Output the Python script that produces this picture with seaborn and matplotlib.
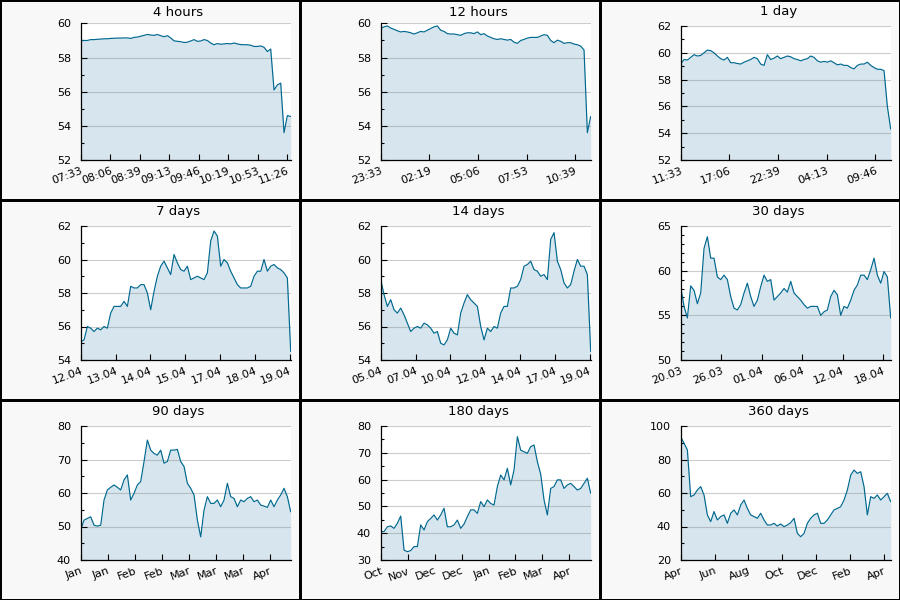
import numpy as np
import pandas as pd
import matplotlib
matplotlib.use("Agg")
import matplotlib.pyplot as plt
import seaborn as sns
from matplotlib.ticker import MultipleLocator

sns.set_style("white")
plt.rcParams["font.family"] = ["DejaVu Sans"]
plt.rcParams["text.color"] = "black"

titles = ["4 hours", "12 hours", "1 day", "7 days", "14 days", "30 days",
          "90 days", "180 days", "360 days"]
spans = [240, 720, 1440, 7, 14, 30, 90, 180, 360]
tick_steps = [33.75, 166.8, 333.6, 1.16, 2.32, 5.78, 11.56, 23.1, 58.0]
tick_labels = [
    ["07:33", "08:06", "08:39", "09:13", "09:46", "10:19", "10:53", "11:26"],
    ["23:33", "02:19", "05:06", "07:53", "10:39"],
    ["11:33", "17:06", "22:39", "04:13", "09:46"],
    ["12.04", "13.04", "14.04", "15.04", "17.04", "18.04", "19.04"],
    ["05.04", "07.04", "10.04", "12.04", "14.04", "17.04", "19.04"],
    ["20.03", "26.03", "01.04", "06.04", "12.04", "18.04"],
    ["Jan", "Jan", "Feb", "Feb", "Mar", "Mar", "Mar", "Apr"],
    ["Oct", "Nov", "Dec", "Dec", "Jan", "Feb", "Mar", "Apr"],
    ["Apr", "Jun", "Aug", "Oct", "Dec", "Feb", "Apr"],
]
# (min, max, major step, minor step)
y_axes = [(52, 60, 2, 1), (52, 60, 2, 1), (52, 62, 2, 1),
          (54, 62, 2, 1), (54, 62, 2, 1), (50, 65, 5, 1),
          (40, 80, 10, 5), (30, 80, 10, 5), (20, 100, 20, 10)]

vals_4h = [59.0, 59.0, 59.0, 59.05, 59.05, 59.07, 59.08, 59.1, 59.1, 59.12,
           59.13, 59.14, 59.14, 59.15, 59.15, 59.12, 59.18, 59.2, 59.25, 59.3,
           59.35, 59.32, 59.3, 59.35, 59.28, 59.22, 59.28, 59.15, 58.98, 58.95,
           58.93, 58.88, 58.9, 58.97, 59.05, 58.95, 58.97, 59.05, 59.0, 58.85,
           58.75, 58.82, 58.78, 58.8, 58.82, 58.8, 58.85, 58.8, 58.76, 58.75,
           58.75, 58.72, 58.65, 58.65, 58.68, 58.6, 58.35, 58.5, 56.1, 56.4,
           56.5, 53.6, 54.6, 54.55]
vals_12h = [59.7, 59.8, 59.85, 59.73, 59.65, 59.57, 59.5, 59.53, 59.5, 59.45,
            59.38, 59.45, 59.53, 59.5, 59.6, 59.7, 59.8, 59.85, 59.6, 59.53,
            59.4, 59.38, 59.38, 59.34, 59.3, 59.4, 59.45, 59.45, 59.4, 59.5,
            59.34, 59.4, 59.26, 59.18, 59.1, 59.06, 59.1, 59.06, 59.02, 59.06,
            58.9, 58.83, 59.0, 59.06, 59.14, 59.18, 59.18, 59.18, 59.26, 59.34,
            59.3, 59.0, 58.87, 59.02, 58.95, 58.83, 58.87, 58.87, 58.79, 58.75,
            58.67, 58.44, 53.6, 54.55]
vals_1d = [59.16, 59.5, 59.46, 59.66, 59.86, 59.76, 59.8, 60.0, 60.2, 60.16,
           60.0, 59.76, 59.56, 59.46, 59.66, 59.26, 59.26, 59.2, 59.16, 59.3,
           59.4, 59.5, 59.66, 59.56, 59.16, 59.06, 59.86, 59.5, 59.6, 59.76,
           59.56, 59.66, 59.76, 59.7, 59.56, 59.5, 59.4, 59.5, 59.56, 59.76,
           59.66, 59.4, 59.3, 59.36, 59.3, 59.4, 59.26, 59.1, 59.16, 59.06,
           59.06, 58.9, 58.8, 59.06, 59.16, 59.16, 59.3, 59.06, 58.9, 58.77,
           58.77, 58.67, 56.0, 54.3]
vals_7d = [55.1, 55.2, 56.0, 55.9, 55.7, 55.9, 55.8, 56.0, 55.9, 56.8,
           57.2, 57.2, 57.2, 57.5, 57.2, 58.4, 58.3, 58.3, 58.5, 58.5,
           58.0, 57.0, 58.1, 59.0, 59.6, 59.9, 59.5, 59.1, 60.3, 59.8,
           59.4, 59.3, 59.6, 58.8, 58.9, 59.0, 58.9, 58.8, 59.2, 61.1,
           61.7, 61.4, 59.6, 60.0, 59.8, 59.3, 58.9, 58.5, 58.3, 58.3,
           58.3, 58.4, 59.0, 59.3, 59.3, 60.0, 59.3, 59.6, 59.7, 59.5,
           59.4, 59.2, 58.9, 54.5]
vals_14d = [58.8, 57.9, 57.2, 57.6, 57.0, 56.8, 57.1, 56.7, 56.2, 55.7,
            55.9, 56.0, 55.9, 56.2, 56.1, 55.9, 55.6, 55.7, 55.0, 54.9,
            55.2, 55.9, 55.6, 55.5, 56.8, 57.4, 57.9, 57.6, 57.4, 57.2,
            56.0, 55.2, 55.9, 55.7, 56.0, 55.9, 56.8, 57.2, 57.2, 58.3,
            58.3, 58.4, 58.8, 59.6, 59.7, 59.9, 59.4, 59.3, 59.0, 59.1,
            58.8, 61.2, 61.6, 59.9, 59.4, 58.6, 58.3, 58.5, 59.3, 60.0,
            59.6, 59.6, 59.1, 54.5]
vals_30d = [58.2, 56.0, 54.7, 58.3, 57.8, 56.3, 57.5, 62.5, 63.8, 61.4,
            61.4, 59.3, 59.0, 59.5, 59.0, 57.1, 55.8, 55.6, 56.2, 57.5,
            58.6, 57.1, 56.0, 56.7, 58.2, 59.5, 58.8, 59.0, 56.7, 57.1,
            57.5, 58.0, 57.6, 58.8, 57.5, 57.1, 56.7, 56.2, 55.8, 56.0,
            56.0, 56.0, 55.0, 55.4, 55.6, 57.1, 57.8, 57.3, 55.0, 56.0,
            55.8, 56.7, 57.8, 58.4, 59.5, 59.5, 59.0, 60.1, 61.4, 59.5,
            58.6, 59.9, 59.3, 54.7]
vals_90d = [49.0, 51.9, 52.4, 52.9, 50.4, 50.1, 50.4, 57.9, 60.9, 61.7,
            62.4, 61.7, 60.9, 63.9, 65.4, 57.9, 59.9, 62.4, 63.4, 69.4,
            75.8, 72.8, 71.8, 71.3, 72.8, 68.9, 69.4, 72.8, 72.8, 73.0,
            69.4, 67.9, 62.9, 61.4, 59.4, 51.9, 46.9, 54.9, 58.9, 56.9,
            56.9, 57.9, 55.9, 57.9, 62.9, 58.9, 58.4, 55.9, 57.9, 57.4,
            58.4, 58.9, 57.4, 57.9, 56.4, 56.1, 55.7, 57.9, 55.9, 57.9,
            59.4, 61.4, 58.9, 54.4]
vals_180d = [40.6, 40.6, 42.4, 42.7, 41.8, 43.7, 46.4, 33.7, 33.1, 33.5,
             35.0, 35.0, 43.1, 41.2, 44.3, 45.5, 46.8, 44.9, 46.8, 49.3,
             42.4, 42.4, 43.1, 44.9, 41.8, 43.4, 46.2, 48.7, 48.7, 47.4,
             51.8, 49.9, 52.4, 51.1, 50.5, 57.4, 61.7, 59.9, 64.2, 58.0,
             63.6, 76.0, 71.0, 70.4, 69.8, 72.3, 72.9, 66.7, 62.0, 52.4,
             46.8, 56.7, 57.4, 59.9, 59.9, 56.7, 58.0, 58.6, 57.4, 56.1,
             56.7, 58.6, 60.5, 54.9]
vals_360d = [93.6, 89.7, 85.7, 57.8, 58.8, 61.8, 63.8, 58.8, 46.9, 42.9,
             48.9, 43.9, 45.9, 46.9, 41.9, 47.9, 49.9, 46.9, 52.8, 55.8,
             50.8, 46.9, 45.9, 44.9, 47.9, 43.9, 40.9, 40.9, 41.9, 40.3,
             41.5, 39.9, 40.9, 42.3, 44.9, 35.9, 33.9, 35.9, 41.9, 44.9,
             46.9, 47.9, 41.9, 41.9, 43.9, 46.9, 49.9, 50.8, 51.8, 55.8,
             61.8, 70.7, 73.7, 71.7, 72.7, 63.8, 46.9, 57.8, 56.8, 58.8,
             55.8, 57.8, 59.8, 54.8]

series = [vals_4h, vals_12h, vals_1d, vals_7d, vals_14d, vals_30d,
          vals_90d, vals_180d, vals_360d]

line_color = "#00688f"
fill_color = "#d7e6ee"
panel_bg = "#f8f8f8"

fig = plt.figure(figsize=(9, 6), dpi=100)
subfigs = fig.subfigures(3, 3, wspace=0, hspace=0)

for i, sf in enumerate(subfigs.flat):
    sf.set_facecolor(panel_bg)
    sf.patch.set_edgecolor("black")
    sf.patch.set_linewidth(1.0)

    top = 0.883 if i < 2 else 0.87
    ax = sf.add_axes([0.269, 0.2, 0.70, top - 0.2])
    ax.set_facecolor("white")

    vals = series[i]
    x = np.linspace(0, spans[i], len(vals))
    df = pd.DataFrame({"t": x, "v": vals})
    ymin, ymax, ymaj, ymin_step = y_axes[i]

    ax.fill_between(df["t"], df["v"], ymin, color=fill_color, lw=0, zorder=1)
    sns.lineplot(data=df, x="t", y="v", ax=ax, color=line_color, lw=0.85, zorder=2)

    ax.set_xlim(0, spans[i])
    ax.set_ylim(ymin, ymax)
    ax.set_xticks([k * tick_steps[i] for k in range(len(tick_labels[i]))])
    ax.set_xticklabels(tick_labels[i], rotation=20, ha="right", rotation_mode="anchor")
    ax.yaxis.set_major_locator(MultipleLocator(ymaj))
    ax.yaxis.set_minor_locator(MultipleLocator(ymin_step))
    ax.set_xlabel("")
    ax.set_ylabel("")

    ax.set_axisbelow("line")
    ax.grid(axis="y", which="major", color="#808080", alpha=0.4, lw=0.8)
    ax.grid(axis="x", visible=False)

    ax.spines[["top", "right"]].set_visible(False)
    for s in ["left", "bottom"]:
        ax.spines[s].set_color("black")
        ax.spines[s].set_linewidth(0.9)

    ax.tick_params(axis="y", which="major", direction="in", length=4.3, width=0.8,
                   labelsize=8, pad=7, left=True, colors="black")
    ax.tick_params(axis="y", which="minor", direction="in", length=2.4, width=0.8,
                   left=True, colors="black")
    ax.tick_params(axis="x", which="major", direction="in", length=4.3, width=0.8,
                   labelsize=8, pad=4, bottom=True, colors="black")

    sf.text(0.595, 0.94, titles[i], ha="center", va="center", fontsize=9.5,
            color="black")

fig.savefig("out.png", dpi=100, facecolor=panel_bg)
